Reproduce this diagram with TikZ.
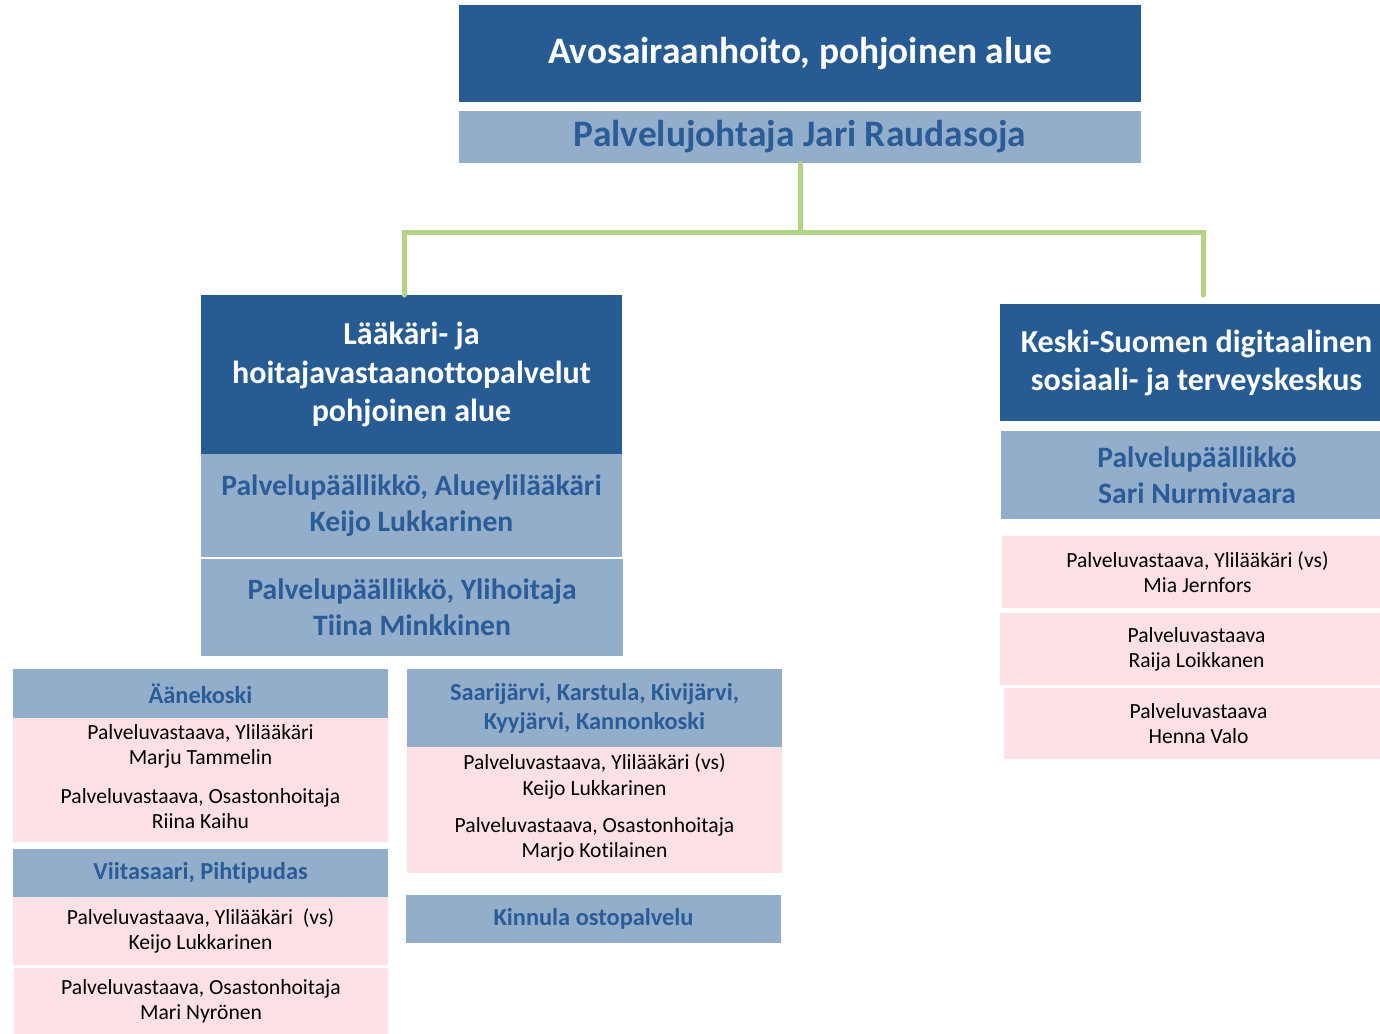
\documentclass[tikz,border=0pt]{standalone}
\usepackage{fontspec}
\setmainfont{Carlito}[Ligatures=NoCommon]
\usepackage{tikz}
\definecolor{orgdark}{HTML}{265B93}
\definecolor{orglight}{HTML}{93AECA}
\definecolor{orgpink}{HTML}{FDE1E4}
\definecolor{orgtext}{HTML}{2A5C97}
\definecolor{orggreen}{HTML}{B3D486}
\tikzstyle{darkbox}=[fill=orgdark, text=white, font=\bfseries, align=center, inner sep=0pt]
\tikzstyle{lightbox}=[fill=orglight, text=orgtext, font=\bfseries, align=center, inner sep=0pt]
\tikzstyle{pinkbox}=[fill=orgpink, text=black, align=center, inner sep=0pt, font=\fontsize{10.8}{12.6}\selectfont]
\tikzstyle{conn}=[draw=orggreen, line width=2.5pt, line cap=round]
\tikzset{wh/.style 2 args={minimum width=#1*0.5pt, minimum height=#2*0.5pt}}
\newcommand{\darknode}{\node[darkbox]}
\newcommand{\lightnode}{\node[lightbox]}
\newcommand{\pinknode}{\node[pinkbox]}

\begin{document}
\begin{tikzpicture}[x=0.5pt, y=-0.5pt]
    \useasboundingbox (0,0) rectangle (1380,1033);
    % top
    \darknode[wh={682}{97}, font=\bfseries\fontsize{18.7}{21}\selectfont] (top) at (800,53.5)
        {Avosairaanhoito, pohjoinen alue};
    \lightnode[wh={682}{52}, font=\bfseries\fontsize{18.7}{21}\selectfont] (pj) at (800,137)
        {Palvelujohtaja Jari Raudasoja};
    % left branch
    \darknode[wh={421}{159}, font=\bfseries\fontsize{16}{19.3}\selectfont] (laak) at (411.5,374.5)
        {Lääkäri- ja\\hoitajavastaanottopalvelut\\pohjoinen alue};
    \lightnode[wh={421}{103}, font=\bfseries\fontsize{14.8}{18}\selectfont] (alue) at (411.5,505.5)
        {Palvelupäällikkö, Alueylilääkäri\\Keijo Lukkarinen};
    \lightnode[wh={422}{97}, font=\bfseries\fontsize{14.8}{18}\selectfont] (ylih) at (412,607.5)
        {Palvelupäällikkö, Ylihoitaja\\Tiina Minkkinen};
    % right branch (runs past the right edge)
    \darknode[wh={393}{117}, font=\bfseries\fontsize{16}{19}\selectfont] (digi) at (1196.5,362.5)
        {Keski-Suomen digitaalinen\\sosiaali- ja terveyskeskus};
    \lightnode[wh={392}{88}, font=\bfseries\fontsize{14.8}{18}\selectfont] (nurmi) at (1197,475)
        {Palvelupäällikkö\\Sari Nurmivaara};
    \pinknode[wh={391}{72}] (jern) at (1197.5,572) {Palveluvastaava, Ylilääkäri (vs)\\Mia Jernfors};
    \pinknode[wh={393}{72}] (loik) at (1196.5,649) {Palveluvastaava\\Raija Loikkanen};
    \pinknode[wh={389}{71}] (valo) at (1198.5,723.5) {Palveluvastaava\\Henna Valo};
    % areas
    \lightnode[wh={375}{49}, font=\bfseries\fontsize{12.2}{14.5}\selectfont] (aane) at (200.5,693.5) {Äänekoski};
    \pinknode[wh={375}{57}] (aane1) at (200.5,746.5) {Palveluvastaava, Ylilääkäri\\Marju Tammelin};
    \pinknode[wh={375}{67}] (aane2) at (200.5,808.5) {Palveluvastaava, Osastonhoitaja\\Riina Kaihu};
    \lightnode[wh={375}{48}, font=\bfseries\fontsize{12.2}{14.5}\selectfont] (viita) at (200.5,873) {Viitasaari, Pihtipudas};
    \pinknode[wh={375}{68}] (viita1) at (200.5,931) {Palveluvastaava, Ylilääkäri\ \ (vs)\\Keijo Lukkarinen};
    \pinknode[wh={374}{66}] (viita2) at (201,1001) {Palveluvastaava, Osastonhoitaja\\Mari Nyrönen};
    \lightnode[wh={375}{78}, font=\bfseries\fontsize{12.2}{14.5}\selectfont] (saari) at (594.5,708)
        {Saarijärvi, Karstula, Kivijärvi,\\Kyyjärvi, Kannonkoski};
    \pinknode[wh={375}{59}] (saari1) at (594.5,776.5) {Palveluvastaava, Ylilääkäri (vs)\\Keijo Lukkarinen};
    \pinknode[wh={375}{67}] (saari2) at (594.5,839.5) {Palveluvastaava, Osastonhoitaja\\Marjo Kotilainen};
    \lightnode[wh={375}{48}, font=\bfseries\fontsize{12.2}{14.5}\selectfont] (kinn) at (593.5,919) {Kinnula ostopalvelu};
    % connectors
    \coordinate (bar) at (800,232);
    \coordinate (lend) at (404,295);
    \coordinate (rend) at (1203,295);
    \draw[conn] (pj.south) -- (bar);
    \draw[conn] (lend) |- (bar) -| (rend);
\end{tikzpicture}
\end{document}
